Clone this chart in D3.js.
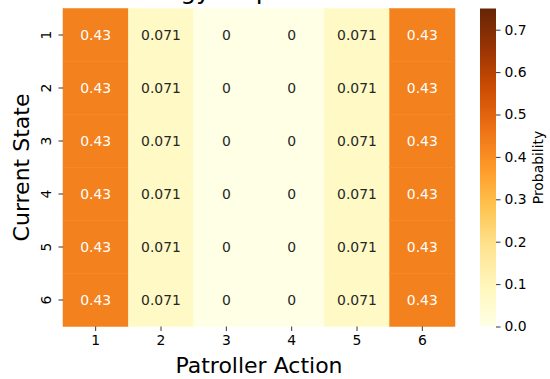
<!DOCTYPE html>
<html>
<head>
<meta charset="utf-8">
<script src="https://cdn.jsdelivr.net/npm/d3@7"></script>
<style>
  body { margin: 0; background: #fff; }
  svg { display: block; font-family: "DejaVu Sans", sans-serif; }
</style>
</head>
<body>
<div id="chart"></div>
<script>
// chart data
var states = ["1", "2", "3", "4", "5", "6"];
var actions = ["1", "2", "3", "4", "5", "6"];
// probability of each patroller action, one row per current state
var strategy = [
    [0.43, 0.071, 0, 0, 0.071, 0.43],
    [0.43, 0.071, 0, 0, 0.071, 0.43],
    [0.43, 0.071, 0, 0, 0.071, 0.43],
    [0.43, 0.071, 0, 0, 0.071, 0.43],
    [0.43, 0.071, 0, 0, 0.071, 0.43],
    [0.43, 0.071, 0, 0, 0.071, 0.43]
];
var colorTicks = [0, 0.1, 0.2, 0.3, 0.4, 0.5, 0.6, 0.7];
var vmax = 0.75;

var width = 550, height = 379;
var hm = {left: 63, right: 455, top: 8.5, bottom: 326.5};
var cb = {left: 480, right: 496};

// YlOrBr, linear segments like matplotlib
var ylorbr = ["#ffffe5","#fff7bc","#fee391","#fec44f","#fe9929","#ec7014","#cc4c02","#993404","#662506"];
var color = d3.scaleLinear()
    .domain(ylorbr.map(function(c, i){ return vmax * i / (ylorbr.length - 1); }))
    .range(ylorbr)
    .clamp(true);

var svg = d3.select("#chart").append("svg")
    .attr("width", width)
    .attr("height", height);

var x = d3.scaleBand().domain(actions).range([hm.left, hm.right]);
var y = d3.scaleBand().domain(states).range([hm.top, hm.bottom]);

// title, mostly clipped off the top like the original
svg.append("text")
    .attr("x", 216)
    .attr("y", -1.5)
    .attr("text-anchor", "middle")
    .style("font-size", "25px")
    .attr("fill", "#000")
    .text("Patroller Strategy Map for All States");

// cells
var cells = [];
strategy.forEach(function(row, i){
    row.forEach(function(v, j){
        cells.push({state: states[i], action: actions[j], value: v});
    });
});

var fmt = d3.format(".2~g");

svg.append("g").selectAll("rect")
    .data(cells)
    .enter().append("rect")
    .attr("x", function(d){ return x(d.action); })
    .attr("y", function(d){ return y(d.state); })
    .attr("width", x.bandwidth())
    .attr("height", y.bandwidth())
    .attr("fill", function(d){ return color(d.value); })
    .attr("stroke", function(d){ return color(d.value); })
    .attr("stroke-width", 0.5);

svg.append("g").selectAll("text")
    .data(cells)
    .enter().append("text")
    .attr("x", function(d){ return x(d.action) + x.bandwidth() / 2; })
    .attr("y", function(d){ return y(d.state) + y.bandwidth() / 2; })
    .attr("text-anchor", "middle")
    .attr("dominant-baseline", "central")
    .style("font-size", "13.9px")
    .attr("fill", function(d){ return d.value > 0.3 ? "#ffffff" : "#262626"; })
    .text(function(d){ return fmt(d.value); });

// x axis
var xAxis = svg.append("g")
    .attr("transform", "translate(0," + hm.bottom + ")")
    .call(d3.axisBottom(x).tickSize(4.5).tickPadding(4));
xAxis.select(".domain").remove();
xAxis.selectAll("text").style("font-size", "13.9px").attr("fill", "#000").style("font-family", "DejaVu Sans");
xAxis.selectAll("line").attr("stroke", "#000").attr("stroke-width", 0.8);

// y axis with rotated labels
var yAxis = svg.append("g")
    .attr("transform", "translate(" + hm.left + ",0)")
    .call(d3.axisLeft(y).tickSize(4.5));
yAxis.select(".domain").remove();
yAxis.selectAll("line").attr("stroke", "#000").attr("stroke-width", 0.8);
yAxis.selectAll("text")
    .attr("x", null).attr("dy", null)
    .attr("transform", "translate(-12.5,0) rotate(-90)")
    .attr("text-anchor", "middle")
    .style("font-size", "13.9px")
    .style("font-family", "DejaVu Sans")
    .attr("fill", "#000");

// axis labels
svg.append("text")
    .attr("x", (hm.left + hm.right) / 2)
    .attr("y", 373)
    .attr("text-anchor", "middle")
    .style("font-size", "22px")
    .text("Patroller Action");

svg.append("text")
    .attr("transform", "translate(28.5," + ((hm.top + hm.bottom) / 2) + ") rotate(-90)")
    .attr("text-anchor", "middle")
    .style("font-size", "22px")
    .text("Current State");

// colorbar
var cbScale = d3.scaleLinear().domain([0, vmax]).range([hm.bottom, hm.top]);

var grad = svg.append("defs").append("linearGradient")
    .attr("id", "cbgrad")
    .attr("x1", "0").attr("y1", "1").attr("x2", "0").attr("y2", "0");
d3.range(0, 1.0001, 0.125).forEach(function(t){
    grad.append("stop")
        .attr("offset", t)
        .attr("stop-color", color(t * vmax));
});

svg.append("rect")
    .attr("x", cb.left)
    .attr("y", hm.top)
    .attr("width", cb.right - cb.left)
    .attr("height", hm.bottom - hm.top)
    .attr("fill", "url(#cbgrad)");

var cAxis = svg.append("g")
    .attr("transform", "translate(" + cb.right + ",0)")
    .call(d3.axisRight(cbScale).tickValues(colorTicks).tickFormat(d3.format(".1f")).tickSize(4.5).tickPadding(4));
cAxis.select(".domain").remove();
cAxis.selectAll("line").attr("stroke", "#000").attr("stroke-width", 0.8);
cAxis.selectAll("text").style("font-size", "13.9px").style("font-family", "DejaVu Sans").attr("fill", "#000");

svg.append("text")
    .attr("transform", "translate(543," + ((hm.top + hm.bottom) / 2) + ") rotate(-90)")
    .attr("text-anchor", "middle")
    .style("font-size", "13.9px")
    .text("Probability");
</script>
</body>
</html>
